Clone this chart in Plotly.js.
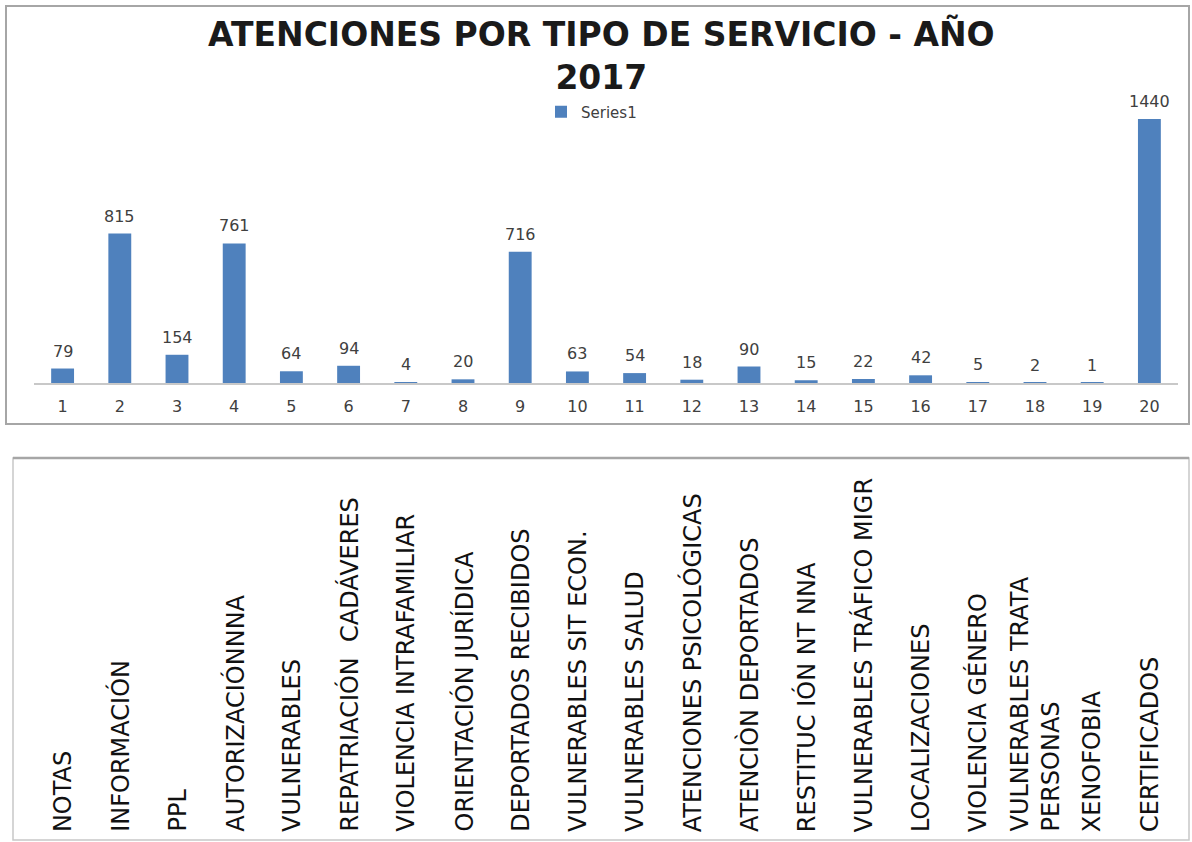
<!DOCTYPE html>
<html>
<head>
<meta charset="utf-8">
<script src="https://cdn.plot.ly/plotly-3.0.1.min.js"></script>
<style>html,body{margin:0;padding:0;background:#fff;}#chart{width:1192px;height:842px;}</style>
</head>
<body>
<div id="chart"></div>
<script>
const categories = ['1','2','3','4','5','6','7','8','9','10','11','12','13','14','15','16','17','18','19','20'];
const values = [79, 815, 154, 761, 64, 94, 4, 20, 716, 63, 54, 18, 90, 15, 22, 42, 5, 2, 1, 1440];
const serviceNames = [
  'NOTAS', 'INFORMACIÓN', 'PPL', 'AUTORIZACIÓNNNA', 'VULNERABLES',
  'REPATRIACIÓN  CADÁVERES', 'VIOLENCIA INTRAFAMILIAR', 'ORIENTACIÓN JURÍDICA',
  'DEPORTADOS RECIBIDOS', 'VULNERABLES SIT ECON.', 'VULNERABLES SALUD',
  'ATENCIONES PSICOLÓGICAS', 'ATENCIÒN DEPORTADOS', 'RESTITUC IÓN NT NNA',
  'VULNERABLES TRÁFICO MIGR', 'LOCALIZACIONES', 'VIOLENCIA GÉNERO',
  'VULNERABLES TRATA<br>PERSONAS', 'XENOFOBIA', 'CERTIFICADOS'
];
const seriesName = 'Series1';
const chartTitle = 'ATENCIONES POR TIPO DE SERVICIO - AÑO<br>2017';

const W = 1192, H = 842;
const px = v => v / W;
const py = v => 1 - v / H;

const barColor = '#4f81bd';
const textColor = '#404040';

const trace = {
  type: 'bar',
  x: categories,
  y: values,
  name: seriesName,
  marker: {color: barColor},
  width: 0.4,
  showlegend: true,
  hoverinfo: 'x+y'
};

const valueAnnotations = categories.map((c, i) => ({
  xref: 'x', yref: 'y', x: i, y: values[i],
  text: String(values[i]), showarrow: false,
  yanchor: 'bottom', yshift: 6,
  font: {family: 'DejaVu Sans', size: 16, color: textColor}
}));

const nameAnnotations = categories.map((c, i) => ({
  xref: 'x', yref: 'paper', x: i, y: py(834),
  text: serviceNames[i], showarrow: false,
  textangle: -90, yanchor: 'bottom', xanchor: 'center', align: 'left',
  font: {family: 'DejaVu Sans', size: 24, color: '#111'}
}));

const titleAnnotation = {
  xref: 'paper', yref: 'paper', x: px(601), y: py(12),
  xanchor: 'center', yanchor: 'top', showarrow: false,
  text: chartTitle,
  font: {family: 'DejaVu Sans', size: 33, color: '#1a1a1a', weight: 'bold'}
};

const layout = {
  width: W, height: H,
  margin: {l: 0, r: 0, t: 0, b: 0},
  paper_bgcolor: '#fff', plot_bgcolor: 'rgba(0,0,0,0)',
  xaxis: {
    domain: [px(34), px(1178)],
    type: 'category',
    range: [-0.5, 19.5],
    showline: true, linecolor: '#c8c8c8', linewidth: 1.5,
    ticks: '', showgrid: false, zeroline: false,
    ticklabelstandoff: 8,
    tickfont: {family: 'DejaVu Sans', size: 16, color: textColor},
    fixedrange: true
  },
  yaxis: {
    domain: [py(383), py(80)],
    range: [0, 1440 * 303 / 264],
    visible: false, showgrid: false, zeroline: false, fixedrange: true
  },
  legend: {
    orientation: 'h', x: px(541), y: py(112), xanchor: 'left', yanchor: 'middle',
    font: {family: 'DejaVu Sans', size: 15, color: textColor},
    bgcolor: 'rgba(0,0,0,0)'
  },
  shapes: [
    {type: 'rect', xref: 'paper', yref: 'paper', x0: px(6), x1: px(1189), y0: py(6), y1: py(424),
     line: {color: '#a6a6a6', width: 2}, layer: 'below'},
    {type: 'rect', xref: 'paper', yref: 'paper', x0: px(13), x1: px(1189), y0: py(458), y1: py(840),
     line: {color: '#c8c8c8', width: 1.5}, layer: 'below'},
    {type: 'line', xref: 'paper', yref: 'paper', x0: px(13), x1: px(1189), y0: py(458), y1: py(458),
     line: {color: '#a6a6a6', width: 2.5}}
  ],
  annotations: [titleAnnotation].concat(valueAnnotations, nameAnnotations)
};

Plotly.newPlot('chart', [trace], layout, {displayModeBar: false});
</script>
</body>
</html>
